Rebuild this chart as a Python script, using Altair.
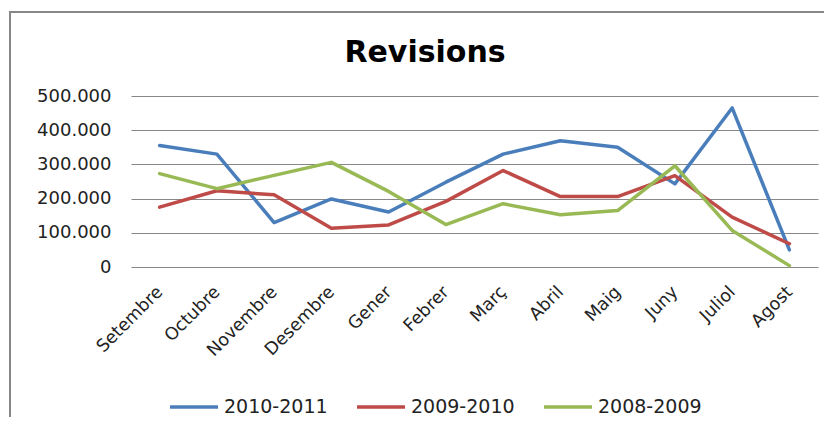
import altair as alt
import pandas as pd

months = ["Setembre", "Octubre", "Novembre", "Desembre", "Gener", "Febrer",
          "Març", "Abril", "Maig", "Juny", "Juliol", "Agost"]
series_names = ["2010-2011", "2009-2010", "2008-2009"]
s2010_2011 = [355000, 330000, 130000, 199000, 161000, 248000, 330000, 369000, 350000, 243000, 465000, 50000]
s2009_2010 = [175000, 223000, 211000, 113000, 123000, 192000, 282000, 206000, 206000, 267000, 146000, 68000]
s2008_2009 = [273000, 229000, 268000, 306000, 221000, 124000, 185000, 153000, 165000, 296000, 107000, 4000]
colors = ["#4A7EBB", "#BE4B48", "#98B954"]
y_ticks = [0, 100000, 200000, 300000, 400000, 500000]
title_text = ["Revisions"]

rows = []
for name, vals in zip(series_names, [s2010_2011, s2009_2010, s2008_2009]):
    for m, v in zip(months, vals):
        rows.append({"Mes": m, "Valor": v, "Sèrie": name})
df = pd.DataFrame(rows)

W, H = 687, 171
FONT = "DejaVu Sans"

lines = alt.Chart(df).mark_line(strokeWidth=3.5, strokeJoin="round", strokeCap="round").encode(
    x=alt.X("Mes:N", sort=months, title=None,
            scale=alt.Scale(type="point", padding=0.5),
            axis=alt.Axis(labelAngle=-45, labelAlign="right", labelBaseline="middle",
                          labelPadding=22, ticks=False, domain=False, grid=False,
                          labelFont=FONT, labelFontSize=17.5, labelColor="#222222")),
    y=alt.Y("Valor:Q", title=None,
            scale=alt.Scale(domain=[0, 500000], nice=False),
            axis=alt.Axis(values=y_ticks, grid=True, gridColor="#878787", gridWidth=1,
                          ticks=False, domain=False, labelPadding=20,
                          labelExpr="replace(format(datum.value, ',d'), ',', '.')",
                          labelFont=FONT, labelFontSize=18, labelColor="#222222")),
    color=alt.Color("Sèrie:N", title=None,
                    scale=alt.Scale(domain=series_names, range=colors),
                    legend=alt.Legend(orient="none", direction="horizontal",
                                      legendX=37, legendY=285,
                                      symbolType="stroke", symbolSize=2304,
                                      symbolStrokeWidth=3.5, labelOffset=4,
                                      columnPadding=22, padding=0,
                                      labelFont=FONT, labelFontSize=19,
                                      labelColor="#222222")),
)

title = alt.Chart(pd.DataFrame({"t": title_text})).mark_text(
    font=FONT, fontSize=30, fontWeight="bold", color="#000000",
    align="center", baseline="alphabetic"
).encode(text="t:N", x=alt.value(294), y=alt.value(-34))

border = alt.Chart(pd.DataFrame({"k": [0]})).mark_rule(color="#878787", strokeWidth=2).encode(
    x=alt.value(-121), y=alt.value(-84), y2=alt.value(H + 150)
)
border_top = alt.Chart(pd.DataFrame({"k": [0]})).mark_rule(color="#878787", strokeWidth=2).encode(
    x=alt.value(-122), x2=alt.value(W + 10), y=alt.value(-84)
)

chart = alt.layer(border, border_top, title, lines).properties(
    width=W, height=H,
    autosize=alt.AutoSizeParams(type="none"),
    padding={"left": 123, "top": 88, "right": 6, "bottom": 150},
).configure_view(stroke=None)

chart.save("out.html", embed_options={"renderer": "svg", "actions": False})
